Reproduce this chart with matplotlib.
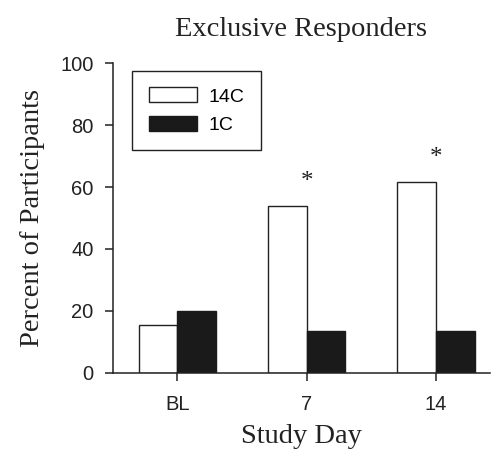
import matplotlib
matplotlib.use("Agg")
import matplotlib.pyplot as plt
import numpy as np

# Percent of participants who responded exclusively, per study day
days = ["BL", "7", "14"]
pct_14c = [15.4, 53.8, 61.5]
pct_1c = [20.0, 13.3, 13.3]
significant = [False, True, True]

sans = "Liberation Sans"
serif = "Liberation Serif"
ink = "#222222"

fig = plt.figure(figsize=(4.95, 4.5), dpi=100)
ax = fig.add_axes([0.228, 0.172, 0.762, 0.687])

x = np.arange(len(days))
w = 0.3
ax.bar(x - w / 2, pct_14c, width=w, facecolor="white", edgecolor=ink,
       linewidth=1.0, label="14C")
ax.bar(x + w / 2, pct_1c, width=w, facecolor="#1a1a1a", edgecolor="#1a1a1a",
       linewidth=1.0, label="1C")

for xi, v, sig in zip(x, pct_14c, significant):
    if sig:
        ax.text(xi, v + 8, "*", ha="center", va="center", fontsize=18,
                family=serif, color=ink)

ax.set_xlim(-0.5, 2.42)
ax.set_ylim(0, 100)
ax.set_yticks([0, 20, 40, 60, 80, 100])
ax.set_xticks(x)
ax.set_xticklabels(days)
for s in ("top", "right"):
    ax.spines[s].set_visible(False)
for s in ("left", "bottom"):
    ax.spines[s].set_linewidth(1.1)
    ax.spines[s].set_color(ink)
ax.tick_params(direction="out", length=6, width=1.1, color=ink,
               labelsize=14.5, pad=8)
ax.tick_params(axis="x", pad=10)
for lab in ax.get_xticklabels() + ax.get_yticklabels():
    lab.set_family(sans)
    lab.set_color(ink)

ax.set_title("Exclusive Responders", family=serif, fontsize=20.5, pad=20,
             color=ink)
ax.set_xlabel("Study Day", family=serif, fontsize=20.5, labelpad=7,
              color=ink)
ax.set_ylabel("Percent of Participants", family=serif, fontsize=20.5,
              labelpad=11, color=ink)

leg = ax.legend(loc="upper left", bbox_to_anchor=(0.051, 0.976),
                prop={"family": sans, "size": 14}, frameon=True,
                fancybox=False, edgecolor=ink, framealpha=1,
                handlelength=2.5, handleheight=0.8, handletextpad=0.6,
                borderpad=0.85, labelspacing=0.52, borderaxespad=0)
leg.get_frame().set_linewidth(1.0)

fig.savefig("out.png", dpi=100)
